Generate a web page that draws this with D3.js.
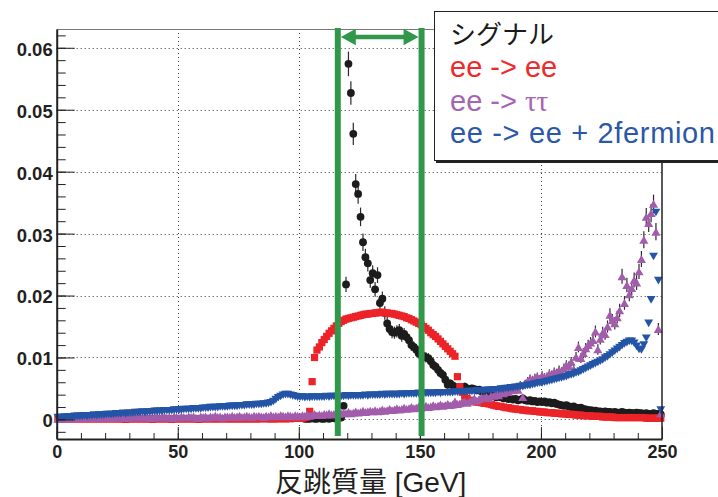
<!DOCTYPE html>
<html>
<head>
<meta charset="utf-8">
<script src="https://cdn.jsdelivr.net/npm/d3@7"></script>
<style>
  body { margin: 0; background: #fff; }
  svg { display: block; }
</style>
</head>
<body>
<svg id="chart" width="718" height="497"></svg>
<script>
// Recoil-mass histograms, 1 GeV bins from 0 to 250 GeV (bin i covers [i, i+1)).
const binWidth = 1;

// Signal (Higgs-strahlung), empty bins are null
const signal = [
  null,null,null,null,null,null,null,null,null,null,
  null,null,null,null,null,null,null,null,null,null,
  null,null,null,null,null,null,null,null,null,null,
  null,null,null,null,null,null,null,null,null,null,
  null,null,null,null,null,null,null,null,null,null,
  null,null,null,null,null,null,null,null,null,null,
  null,null,null,null,null,null,null,null,null,null,
  null,null,null,null,null,null,null,null,null,null,
  null,null,null,null,null,null,null,null,null,null,
  null,null,null,null,null,null,null,null,null,null,
  null,null,0.0001,0.0001,0.0001,0.0002,0.0001,0.0001,0.0002,0.0001,
  0.0001,0.0002,0.0001,0.0002,0.0002,0.0001,0.0003,0.0003,0.0022,0.0218,
  0.0574,0.0527,0.0461,0.0380,0.0364,0.0327,0.0286,0.0262,0.0252,0.0225,
  0.0236,0.0210,0.0233,0.0188,0.0195,0.0172,0.0155,0.0146,0.0141,0.0140,
  0.0142,0.0144,0.0135,0.0138,0.0133,0.0128,0.0120,0.0117,0.0113,0.0107,
  0.0105,0.0102,0.0100,0.0099,0.0094,0.0088,0.0085,0.0080,0.0075,0.0072,
  0.0064,0.0056,0.0058,0.0055,0.0053,0.0052,0.0051,0.0052,0.0053,0.0050,
  0.0048,0.0050,0.0049,0.0047,0.0048,0.0045,0.0043,0.0041,0.0040,0.0039,
  0.0038,0.0036,0.0037,0.0036,0.0034,0.0035,0.0033,0.0034,0.0032,0.0033,
  0.0031,0.0032,0.0034,0.0031,0.0030,0.0031,0.0029,0.0030,0.0028,0.0029,
  0.0028,0.0029,0.0027,0.0028,0.0026,0.0027,0.0025,0.0024,0.0023,0.0022,
  0.0023,0.0021,0.0020,0.0021,0.0019,0.0018,0.0019,0.0017,0.0016,0.0015,
  0.0015,0.0014,0.0014,0.0013,0.0013,0.0012,0.0013,0.0012,0.0012,0.0011,
  0.0012,0.0011,0.0011,0.0012,0.0011,0.0010,0.0011,0.0010,0.0010,0.0011,
  0.0010,0.0010,0.0009,0.0010,0.0009,0.0009,0.0010,0.0009,0.0009,0.0008
];

// ee -> ee (Bhabha)
const bhabha = [
  0.0001,0.0001,0.0001,0.0001,0.0001,0.0001,0.0001,0.0001,0.0001,0.0001,
  0.0001,0.0001,0.0001,0.0001,0.0001,0.0001,0.0001,0.0001,0.0001,0.0001,
  0.0001,0.0001,0.0001,0.0001,0.0001,0.0001,0.0001,0.0001,0.0000,0.0001,
  0.0001,0.0001,0.0001,0.0001,0.0001,0.0001,0.0001,0.0001,0.0001,0.0000,
  0.0001,0.0001,0.0001,0.0001,0.0001,0.0001,0.0001,0.0000,0.0001,0.0001,
  0.0001,0.0001,0.0001,0.0001,0.0001,0.0001,0.0001,0.0001,0.0000,0.0001,
  0.0001,0.0001,0.0001,0.0001,0.0001,0.0001,0.0001,0.0001,0.0001,0.0001,
  0.0001,0.0001,0.0001,0.0001,0.0001,0.0001,0.0001,0.0001,0.0001,0.0001,
  0.0001,0.0001,0.0001,0.0001,0.0001,0.0002,0.0001,0.0001,0.0001,0.0001,
  0.0001,0.0001,0.0002,0.0001,0.0001,0.0002,0.0001,0.0002,0.0002,0.0002,
  0.0002,0.0002,0.0003,0.0004,0.0013,0.0061,0.0100,0.0112,0.0117,0.0124,
  0.0129,0.0134,0.0139,0.0143,0.0147,0.0151,0.0155,0.0158,0.0160,0.0162,
  0.0163,0.0164,0.0165,0.0166,0.0167,0.0168,0.0169,0.0170,0.0170,0.0171,
  0.0171,0.0172,0.0172,0.0173,0.0173,0.0172,0.0172,0.0171,0.0171,0.0170,
  0.0169,0.0168,0.0167,0.0166,0.0164,0.0163,0.0161,0.0159,0.0157,0.0155,
  0.0153,0.0150,0.0147,0.0144,0.0140,0.0137,0.0134,0.0130,0.0126,0.0122,
  0.0118,0.0114,0.0110,0.0106,0.0102,0.0069,0.0053,0.0044,0.0038,0.0034,
  0.0031,0.0030,0.0029,0.0028,0.0028,0.0027,0.0026,0.0026,0.0025,0.0024,
  0.0023,0.0022,0.0021,0.0021,0.0020,0.0019,0.0019,0.0018,0.0017,0.0017,
  0.0016,0.0016,0.0015,0.0015,0.0014,0.0014,0.0014,0.0013,0.0013,0.0012,
  0.0012,0.0012,0.0011,0.0011,0.0011,0.0010,0.0010,0.0010,0.0009,0.0009,
  0.0009,0.0008,0.0008,0.0008,0.0007,0.0007,0.0007,0.0006,0.0006,0.0006,
  0.0006,0.0005,0.0005,0.0005,0.0005,0.0004,0.0004,0.0004,0.0004,0.0004,
  0.0003,0.0003,0.0003,0.0003,0.0003,0.0003,0.0003,0.0003,0.0003,0.0003,
  0.0003,0.0003,0.0003,0.0002,0.0002,0.0002,0.0002,0.0002,0.0002,0.0002
];

// ee -> tau tau
const tautau = [
  0.0001,0.0002,0.0001,0.0002,0.0002,0.0001,0.0003,0.0002,0.0002,0.0003,
  0.0002,0.0003,0.0002,0.0003,0.0002,0.0003,0.0004,0.0002,0.0003,0.0003,
  0.0003,0.0004,0.0002,0.0003,0.0004,0.0003,0.0003,0.0005,0.0002,0.0003,
  0.0004,0.0003,0.0005,0.0003,0.0004,0.0003,0.0005,0.0004,0.0003,0.0002,
  0.0004,0.0005,0.0003,0.0004,0.0005,0.0003,0.0004,0.0002,0.0005,0.0004,
  0.0003,0.0005,0.0004,0.0003,0.0005,0.0004,0.0005,0.0003,0.0002,0.0005,
  0.0004,0.0005,0.0003,0.0005,0.0004,0.0006,0.0004,0.0005,0.0003,0.0005,
  0.0005,0.0004,0.0006,0.0004,0.0005,0.0006,0.0004,0.0005,0.0006,0.0005,
  0.0004,0.0006,0.0005,0.0006,0.0005,0.0004,0.0006,0.0005,0.0007,0.0005,
  0.0006,0.0005,0.0007,0.0006,0.0005,0.0007,0.0006,0.0005,0.0007,0.0006,
  0.0005,0.0007,0.0006,0.0008,0.0006,0.0007,0.0009,0.0007,0.0008,0.0007,
  0.0009,0.0008,0.0010,0.0008,0.0009,0.0011,0.0009,0.0010,0.0011,0.0010,
  0.0012,0.0010,0.0011,0.0013,0.0011,0.0012,0.0014,0.0012,0.0013,0.0014,
  0.0013,0.0015,0.0013,0.0014,0.0016,0.0014,0.0015,0.0017,0.0015,0.0016,
  0.0018,0.0016,0.0017,0.0019,0.0017,0.0018,0.0020,0.0018,0.0019,0.0021,
  0.0019,0.0020,0.0022,0.0020,0.0021,0.0023,0.0021,0.0022,0.0024,0.0022,
  0.0023,0.0025,0.0023,0.0024,0.0029,0.0025,0.0026,0.0028,0.0029,0.0027,
  0.0029,0.0031,0.0034,0.0030,0.0033,0.0036,0.0035,0.0037,0.0034,0.0039,
  0.0038,0.0041,0.0039,0.0045,0.0042,0.0046,0.0044,0.0050,0.0047,0.0052,
  0.0048,0.0056,0.0036,0.0058,0.0062,0.0066,0.0064,0.0067,0.0069,0.0065,
  0.0071,0.0068,0.0069,0.0074,0.0072,0.0077,0.0075,0.0080,0.0077,0.0083,
  0.0088,0.0086,0.0093,0.0081,0.0101,0.0117,0.0099,0.0107,0.0115,0.0120,
  0.0124,0.0128,0.0142,0.0113,0.0130,0.0140,0.0138,0.0150,0.0169,0.0160,
  0.0155,0.0165,0.0176,0.0231,0.0188,0.0217,0.0202,0.0212,0.0225,0.0221,
  0.0239,0.0259,0.0290,0.0327,0.0317,0.0333,0.0348,0.0303,0.0146,0.0010
];

// ee -> ee + 2 fermions
const twoFermion = [
  0.0003,0.0003,0.0003,0.0004,0.0004,0.0004,0.0004,0.0005,0.0005,0.0005,
  0.0005,0.0006,0.0005,0.0006,0.0006,0.0007,0.0006,0.0007,0.0007,0.0007,
  0.0008,0.0008,0.0008,0.0008,0.0009,0.0009,0.0009,0.0010,0.0009,0.0010,
  0.0010,0.0010,0.0011,0.0011,0.0011,0.0012,0.0011,0.0012,0.0012,0.0012,
  0.0013,0.0013,0.0013,0.0013,0.0014,0.0014,0.0014,0.0014,0.0015,0.0015,
  0.0015,0.0015,0.0016,0.0016,0.0016,0.0016,0.0017,0.0017,0.0017,0.0017,
  0.0018,0.0018,0.0018,0.0019,0.0019,0.0019,0.0019,0.0020,0.0020,0.0020,
  0.0020,0.0021,0.0021,0.0021,0.0021,0.0022,0.0022,0.0022,0.0023,0.0023,
  0.0023,0.0023,0.0024,0.0024,0.0024,0.0025,0.0025,0.0026,0.0027,0.0029,
  0.0032,0.0035,0.0037,0.0039,0.0040,0.0040,0.0039,0.0038,0.0037,0.0036,
  0.0036,0.0036,0.0035,0.0036,0.0035,0.0036,0.0036,0.0036,0.0036,0.0036,
  0.0036,0.0037,0.0036,0.0037,0.0037,0.0037,0.0037,0.0037,0.0037,0.0038,
  0.0037,0.0038,0.0038,0.0038,0.0038,0.0038,0.0038,0.0039,0.0038,0.0039,
  0.0039,0.0039,0.0039,0.0039,0.0040,0.0039,0.0040,0.0040,0.0040,0.0040,
  0.0040,0.0040,0.0041,0.0040,0.0041,0.0041,0.0041,0.0041,0.0041,0.0042,
  0.0041,0.0042,0.0042,0.0042,0.0042,0.0042,0.0042,0.0043,0.0042,0.0043,
  0.0043,0.0043,0.0043,0.0043,0.0044,0.0044,0.0044,0.0044,0.0044,0.0045,
  0.0045,0.0045,0.0045,0.0046,0.0046,0.0046,0.0046,0.0047,0.0047,0.0047,
  0.0048,0.0048,0.0048,0.0049,0.0049,0.0050,0.0050,0.0051,0.0051,0.0052,
  0.0052,0.0053,0.0053,0.0054,0.0055,0.0055,0.0056,0.0057,0.0058,0.0059,
  0.0059,0.0060,0.0061,0.0062,0.0063,0.0064,0.0065,0.0066,0.0067,0.0068,
  0.0069,0.0071,0.0072,0.0073,0.0075,0.0076,0.0078,0.0080,0.0082,0.0084,
  0.0086,0.0088,0.0090,0.0092,0.0094,0.0096,0.0099,0.0101,0.0104,0.0107,
  0.0110,0.0113,0.0116,0.0119,0.0122,0.0124,0.0126,0.0126,0.0123,0.0118,
  0.0113,0.0112,0.0120,0.0131,0.0155,0.0193,0.0263,0.0334,0.0224,0.0015
];

// Statistical error scale per series: error = k * sqrt(bin content)
const signalErrScale = 0.0083;
const tautauErrScale = 0.0080;

// Axes
const xTicks = [0, 50, 100, 150, 200, 250];
const xTickLabels = ["0", "50", "100", "150", "200", "250"];
const xMinorStep = 10;
const yTicks = [0, 0.01, 0.02, 0.03, 0.04, 0.05, 0.06];
const yTickLabels = ["0", "0.01", "0.02", "0.03", "0.04", "0.05", "0.06"];
const yMinorStep = 0.002;
const xTitle = "反跳質量 [GeV]";

// Selected recoil-mass window [GeV]
const massWindow = [116.1, 150.7];

// Legend
const legendLabels = ["シグナル", "ee -> ee", "ee -> ", "ee -> ee + 2fermion"];
const legendColors = ["#1a1a1a", "#ee2a2a", "#a466b0", "#2b58a8"];

// ---------------------------------------------------------------
const svg = d3.select("#chart");
const plot = { left: 56.7, right: 662, top: 29, bottom: 439 };

const x = d3.scaleLinear().domain([0, 250]).range([plot.left, plot.right]);
const y = d3.scaleLinear().domain([-0.00316, 0.06303]).range([plot.bottom, plot.top]);

const tickFont = "'Liberation Sans', Arial, Helvetica, sans-serif";
const textFont = "'Liberation Sans', Arial, 'Noto Sans CJK JP', sans-serif";

// Dotted grid
const grid = svg.append("g")
  .attr("stroke", "#3a3a3a")
  .attr("stroke-width", 1)
  .attr("stroke-dasharray", "1,3");
grid.selectAll("line.gx").data(xTicks.slice(1, -1)).join("line")
  .attr("class", "gx")
  .attr("x1", d => Math.round(x(d)) + 0.5).attr("x2", d => Math.round(x(d)) + 0.5)
  .attr("y1", plot.top).attr("y2", plot.bottom);
grid.selectAll("line.gy").data(yTicks).join("line")
  .attr("class", "gy")
  .attr("x1", plot.left).attr("x2", plot.right)
  .attr("y1", d => Math.round(y(d)) + 0.5).attr("y2", d => Math.round(y(d)) + 0.5);

// Marker shapes
const triUp = {
  draw(ctx, size) {
    const s = Math.sqrt(size);
    ctx.moveTo(0, -0.5 * s);
    ctx.lineTo(0.58 * s, 0.5 * s);
    ctx.lineTo(-0.58 * s, 0.5 * s);
    ctx.closePath();
  }
};
const triDown = {
  draw(ctx, size) {
    const s = Math.sqrt(size);
    ctx.moveTo(0, 0.5 * s);
    ctx.lineTo(0.58 * s, -0.5 * s);
    ctx.lineTo(-0.58 * s, -0.5 * s);
    ctx.closePath();
  }
};

function drawSeries(values, shape, size, color, errScale) {
  const pts = values
    .map((v, i) => ({ m: (i + 0.5) * binWidth, v }))
    .filter(d => d.v !== null);
  const g = svg.append("g");
  if (errScale) {
    g.append("g")
      .attr("stroke", "#2a2a2a")
      .attr("stroke-width", 1.2)
      .selectAll("line").data(pts).join("line")
      .attr("x1", d => x(d.m)).attr("x2", d => x(d.m))
      .attr("y1", d => y(d.v + errScale * Math.sqrt(d.v)))
      .attr("y2", d => y(d.v - errScale * Math.sqrt(d.v)));
  }
  const sym = d3.symbol().type(shape).size(size);
  g.append("g")
    .attr("fill", color)
    .selectAll("path").data(pts).join("path")
    .attr("transform", d => `translate(${x(d.m)},${y(d.v)})`)
    .attr("d", sym);
}

drawSeries(signal, d3.symbolCircle, 48, "#1c1c1c", signalErrScale);
drawSeries(bhabha, d3.symbolSquare, 52, "#ec2328", 0);
drawSeries(tautau, triUp, 62, "#a25cab", tautauErrScale);
drawSeries(twoFermion, triDown, 58, "#2454a6", 0);

// Frame top and right edges
svg.append("line")
  .attr("x1", plot.left).attr("x2", plot.right)
  .attr("y1", plot.top + 0.5).attr("y2", plot.top + 0.5)
  .attr("stroke", "#777").attr("stroke-width", 1);
svg.append("line")
  .attr("x1", plot.right).attr("x2", plot.right)
  .attr("y1", plot.top).attr("y2", plot.bottom)
  .attr("stroke", "#222").attr("stroke-width", 1.5);

// X axis: minor and major ticks pointing into the frame
const xMinor = d3.range(0, 250 / xMinorStep + 1).map(k => k * xMinorStep);
svg.append("g")
  .attr("transform", `translate(0,${plot.bottom})`)
  .call(d3.axisBottom(x).tickValues(xMinor).tickSize(-6).tickSizeOuter(0).tickFormat(""))
  .call(g => g.select(".domain").remove())
  .call(g => g.selectAll(".tick line").attr("stroke", "#222"));
const xAxis = svg.append("g")
  .attr("transform", `translate(0,${plot.bottom})`)
  .call(d3.axisBottom(x).tickValues(xTicks).tickSize(-12).tickSizeOuter(0).tickPadding(6)
    .tickFormat((d, i) => xTickLabels[i]));
xAxis.select(".domain").attr("stroke", "#222").attr("stroke-width", 2);
xAxis.selectAll(".tick line").attr("stroke", "#222");
xAxis.selectAll(".tick text")
  .attr("fill", "#231f20")
  .style("font-family", tickFont).style("font-size", "18px").style("font-weight", "bold");

// Y axis
const yMinor = d3.range(-1, 32).map(k => k * yMinorStep);
svg.append("g")
  .attr("transform", `translate(${plot.left},0)`)
  .call(d3.axisLeft(y).tickValues(yMinor).tickSize(-9).tickSizeOuter(0).tickFormat(""))
  .call(g => g.select(".domain").remove())
  .call(g => g.selectAll(".tick line").attr("stroke", "#222"));
const yAxis = svg.append("g")
  .attr("transform", `translate(${plot.left},0)`)
  .call(d3.axisLeft(y).tickValues(yTicks).tickSize(-18).tickSizeOuter(0).tickPadding(4)
    .tickFormat((d, i) => yTickLabels[i]));
yAxis.select(".domain").attr("stroke", "#222").attr("stroke-width", 2);
yAxis.selectAll(".tick line").attr("stroke", "#222");
yAxis.selectAll(".tick text")
  .attr("fill", "#231f20")
  .attr("dy", "0.4em")
  .style("font-family", tickFont).style("font-size", "18.5px").style("font-weight", "bold");

// X axis title
svg.append("text")
  .attr("x", 275).attr("y", 492)
  .attr("fill", "#231f20")
  .style("font-family", textFont).style("font-size", "28px")
  .text(xTitle);

// Mass window: two vertical bars and a double-headed arrow
const green = "#31984b";
const wx0 = x(massWindow[0]), wx1 = x(massWindow[1]);
svg.append("g").attr("stroke", green).attr("stroke-width", 6)
  .selectAll("line").data([wx0, wx1]).join("line")
  .attr("x1", d => d).attr("x2", d => d)
  .attr("y1", 28).attr("y2", 436);
const ay = 37, head = 15, hh = 8.3, sh = 2.2;
const xl = wx0 + 3, xr = wx1 - 3;
const arrow = d3.path();
arrow.moveTo(xl, ay);
arrow.lineTo(xl + head, ay - hh);
arrow.lineTo(xl + head, ay - sh);
arrow.lineTo(xr - head, ay - sh);
arrow.lineTo(xr - head, ay - hh);
arrow.lineTo(xr, ay);
arrow.lineTo(xr - head, ay + hh);
arrow.lineTo(xr - head, ay + sh);
arrow.lineTo(xl + head, ay + sh);
arrow.lineTo(xl + head, ay + hh);
arrow.closePath();
svg.append("path").attr("d", arrow.toString()).attr("fill", green);

// Legend box with drop shadow, running off the right edge of the page
const legend = svg.append("g");
legend.append("rect")
  .attr("x", 436).attr("y", 13).attr("width", 320).attr("height", 150)
  .attr("fill", "#222");
legend.append("rect")
  .attr("x", 434.5).attr("y", 11.5).attr("width", 320).attr("height", 149)
  .attr("fill", "#fff").attr("stroke", "#222").attr("stroke-width", 1);

const legendBaselines = [44, 77, 111, 143];
legendLabels.forEach((label, i) => {
  const t = legend.append("text")
    .attr("x", 450).attr("y", legendBaselines[i])
    .attr("fill", legendColors[i])
    .style("font-family", textFont)
    .style("font-size", i === 0 ? "26px" : "29px");
  if (i === 0) t.style("font-family", "'Noto Sans CJK JP', sans-serif");
  const main = t.append("tspan").text(label);
  if (i === 2) {
    t.append("tspan")
      .style("font-family", "'Liberation Serif', 'DejaVu Serif', serif")
      .text("ττ");
  }
  if (i === 3) {
    // widen the longest entry so it spans the box out to the page edge
    main.attr("textLength", 265).attr("lengthAdjust", "spacing");
  }
});
</script>
</body>
</html>
